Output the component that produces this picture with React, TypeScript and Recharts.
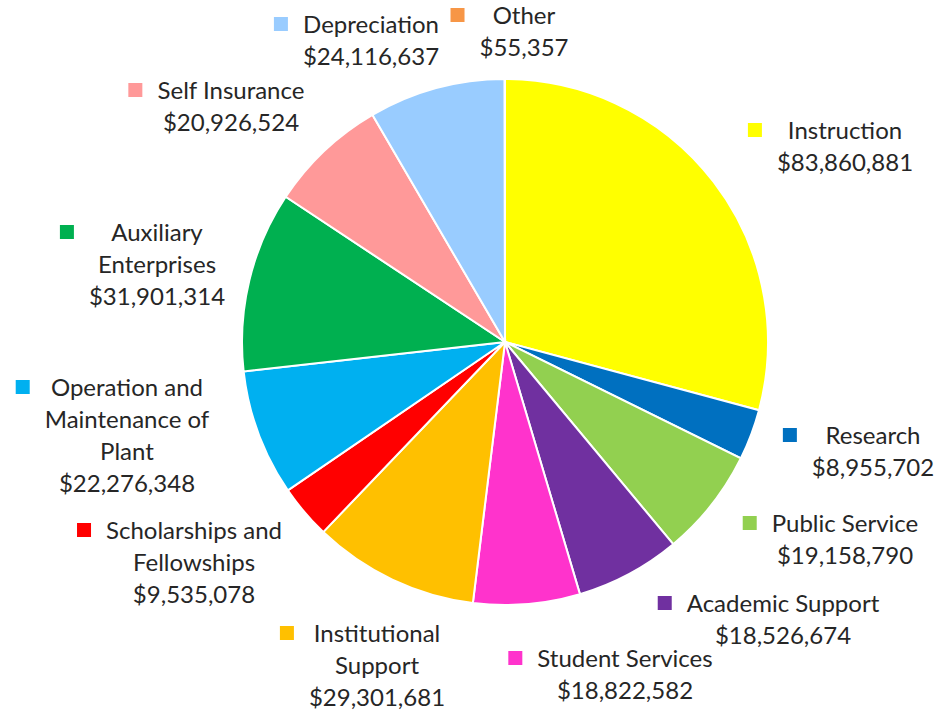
import React from 'react';
import { PieChart, Pie, Cell } from 'recharts';

const categories = [
  'Instruction',
  'Research',
  'Public Service',
  'Academic Support',
  'Student Services',
  'Institutional Support',
  'Scholarships and Fellowships',
  'Operation and Maintenance of Plant',
  'Auxiliary Enterprises',
  'Self Insurance',
  'Depreciation',
  'Other',
];

const amounts = [
  83860881, 8955702, 19158790, 18526674, 18822582, 29301681, 9535078, 22276348, 31901314,
  20926524, 24116637, 55357,
];

const labelLines = [
  ['Instruction'],
  ['Research'],
  ['Public Service'],
  ['Academic Support'],
  ['Student Services'],
  ['Institutional', 'Support'],
  ['Scholarships and', 'Fellowships'],
  ['Operation and', 'Maintenance of', 'Plant'],
  ['Auxiliary', 'Enterprises'],
  ['Self Insurance'],
  ['Depreciation'],
  ['Other'],
];

const colors = [
  '#FFFF00', '#0070C0', '#92D050', '#7030A0', '#FF33CC', '#FFC000', '#FF0000', '#00B0F0',
  '#00B050', '#FF9999', '#99CCFF', '#F79646',
];

// label block placement (center x, first line y) — layout only
const labelPos: [number, number][] = [
  [845, 129], [873, 434], [845, 522], [783, 602], [625, 657], [377, 632], [194, 529],
  [127, 386], [157, 231], [231, 89], [371, 23], [524, 14],
];

const data = categories.map((name, i) => ({ name, value: amounts[i] }));

const FONT = 'Lato, "Open Sans", sans-serif';
const FS = 24;
const LH = 32;
const TEXT_COLOR = '#262626';

let ctx: CanvasRenderingContext2D | null = null;
function measure(s: string): number {
  if (!ctx) {
    const c = document.createElement('canvas');
    ctx = c.getContext('2d');
  }
  if (!ctx) return s.length * FS * 0.5;
  ctx.font = `${FS}px ${FONT}`;
  return ctx.measureText(s).width;
}

const fmt = (v: number) => '$' + v.toLocaleString('en-US');

const renderLabel = (props: any) => {
  const i = props.index;
  const [x, y] = labelPos[i];
  const lines = [...labelLines[i], fmt(amounts[i])];
  const maxW = Math.max(...lines.map(measure));
  const left = x - maxW / 2;
  return (
    <g key={`lbl-${i}`}>
      <rect x={left - 15 - 14} y={y - 6} width={14} height={14} fill={colors[i]} />
      {lines.map((ln, k) => (
        <text
          key={k}
          x={x}
          y={y + k * LH}
          textAnchor="middle"
          dominantBaseline="central"
          fill={TEXT_COLOR}
          fontFamily={FONT}
          fontSize={FS}
        >
          {ln}
        </text>
      ))}
    </g>
  );
};

export default function App() {
  return (
    <div style={{ position: 'absolute', left: 0, top: 0, width: 943, height: 715, background: '#fff' }}>
      <PieChart width={943} height={715} margin={{ top: 0, right: 0, bottom: 0, left: 0 }}>
        <Pie
          data={data}
          dataKey="value"
          nameKey="name"
          cx={505}
          cy={342}
          outerRadius={263}
          startAngle={90}
          endAngle={-270}
          stroke="#ffffff"
          strokeWidth={2}
          label={renderLabel}
          labelLine={false}
          isAnimationActive={false}
        >
          {data.map((d, i) => (
            <Cell key={d.name} fill={colors[i]} />
          ))}
        </Pie>
      </PieChart>
    </div>
  );
}
